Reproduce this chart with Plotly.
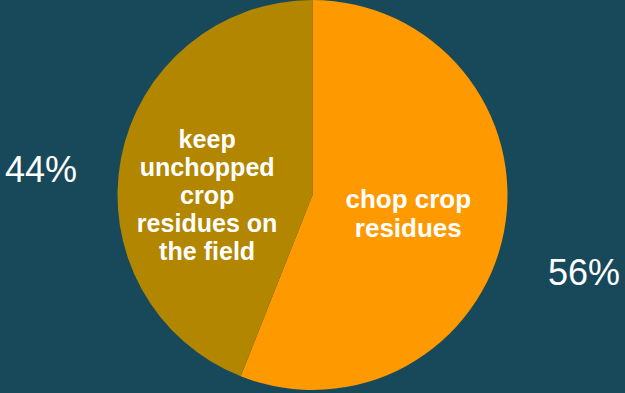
import math
import plotly.graph_objects as go

labels = ["chop crop residues", "keep unchopped crop residues on the field"]
display_labels = ["chop crop<br>residues", "keep<br>unchopped<br>crop<br>residues on<br>the field"]
values = [56, 44]
colors = ["#ff9900", "#b38600"]

W, H = 625, 393
M_T, M_B, M_L, M_R = 0, 3, 0, 0
plot_w = W - M_L - M_R
plot_h = H - M_T - M_B
LINE_SPACING = 1.12

fig = go.Figure(go.Pie(
    labels=labels,
    values=values,
    text=display_labels,
    textinfo="text",
    textposition="inside",
    insidetextorientation="horizontal",
    sort=False,
    direction="clockwise",
    rotation=0,
    marker=dict(colors=colors, line=dict(width=0)),
    textfont=dict(family="Liberation Sans, Arial, sans-serif", size=26, color="white", weight="bold"),
    showlegend=False,
    hoverinfo="label+percent",
))

# percentage annotations placed along each slice's mid-angle
total = sum(values)
start = 0.0
R_px = 276
for v in values:
    frac = v / total
    mid = (start + frac / 2) * 2 * math.pi
    start += frac
    dx = R_px * math.sin(mid)
    dy = R_px * math.cos(mid)
    fig.add_annotation(
        x=0.5 + dx / plot_w, y=0.5 + dy / plot_h,
        xref="paper", yref="paper",
        text=f"{round(frac*100)}%",
        showarrow=False, yshift=-26,
        font=dict(family="Liberation Sans, Arial, sans-serif", size=36, color="white"),
        xanchor="center", yanchor="middle",
    )

fig.update_layout(
    width=W, height=H,
    margin=dict(l=M_L, r=M_R, t=M_T, b=M_B, pad=0),
    paper_bgcolor="#17495a",
    plot_bgcolor="#17495a",
)

post = """
var gd = document.getElementById('{plot_id}');
var LS = %s;
gd.querySelectorAll('g.slicetext text').forEach(function(t){
  var lines = t.querySelectorAll('tspan.line');
  if (lines.length < 2) return;
  var b0 = t.getBBox();
  var c0 = b0.y + b0.height / 2;
  for (var i = 0; i < lines.length; i++) {
    lines[i].setAttribute('dy', (i * LS) + 'em');
  }
  var b1 = t.getBBox();
  var c1 = b1.y + b1.height / 2;
  var tr = t.getAttribute('transform') || '';
  t.setAttribute('transform', tr + ' translate(0,' + (c0 - c1) + ')');
});
""" % LINE_SPACING

fig.write_html("out.html", post_script=post)
